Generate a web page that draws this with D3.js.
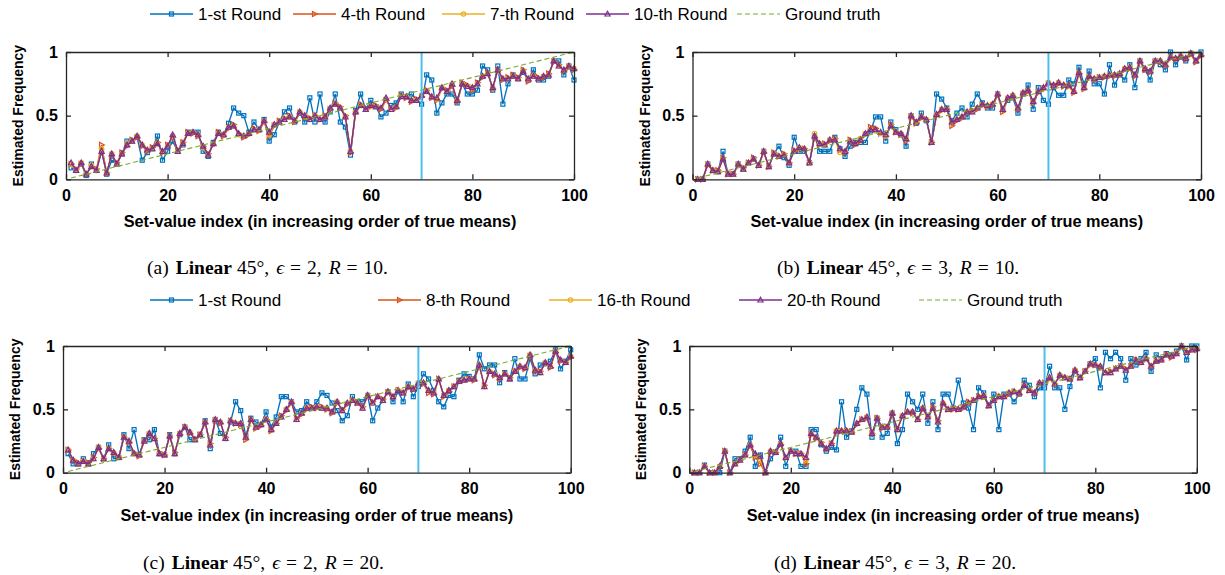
<!DOCTYPE html>
<html>
<head>
<meta charset="utf-8">
<script src="https://cdn.jsdelivr.net/npm/d3@7"></script>
<style>
  body { margin: 0; background: #fff; }
</style>
</head>
<body>
<div id="chart"></div>
<script>
// ---- data ----
const idx = d3.range(1, 101);
const groundTruthIdx = [1, 100];
const groundTruthVal = [0.01, 1.0];
const cutIndex = 70;

const legendTop = ["1-st Round", "4-th Round", "7-th Round", "10-th Round", "Ground truth"];
const legendBottom = ["1-st Round", "8-th Round", "16-th Round", "20-th Round", "Ground truth"];
const xTicks = [0, 20, 40, 60, 80, 100];
const yTicks = [0, 0.5, 1];

// (a) eps=2, R=10
const aRound1 = [0.09,0.07,0.12,0.03,0.12,0.07,0.22,0.04,0.15,0.12,0.2,0.3,0.3,0.33,0.15,0.21,0.24,0.34,0.15,0.22,
  0.3,0.22,0.27,0.37,0.37,0.37,0.22,0.18,0.29,0.37,0.35,0.44,0.56,0.52,0.5,0.37,0.45,0.39,0.47,0.3,
  0.35,0.45,0.53,0.56,0.45,0.52,0.45,0.64,0.45,0.67,0.45,0.53,0.67,0.45,0.41,0.19,0.54,0.67,0.55,0.62,
  0.57,0.49,0.52,0.58,0.6,0.67,0.65,0.67,0.62,0.59,0.82,0.78,0.52,0.6,0.67,0.67,0.6,0.75,0.67,0.67,
  0.7,0.89,0.86,0.7,0.89,0.59,0.75,0.82,0.79,0.84,0.78,0.86,0.78,0.78,0.81,0.93,0.93,0.82,0.89,0.78];
const aRound4 = [0.12,0.08,0.12,0.04,0.1,0.08,0.27,0.05,0.19,0.13,0.21,0.26,0.31,0.33,0.26,0.22,0.25,0.29,0.21,0.27,
  0.33,0.23,0.29,0.37,0.36,0.34,0.26,0.2,0.27,0.37,0.34,0.4,0.43,0.36,0.33,0.35,0.4,0.38,0.45,0.34,
  0.42,0.46,0.48,0.5,0.45,0.52,0.49,0.48,0.5,0.47,0.5,0.55,0.6,0.57,0.5,0.21,0.52,0.59,0.56,0.57,
  0.58,0.55,0.62,0.56,0.56,0.66,0.64,0.61,0.63,0.65,0.7,0.64,0.62,0.71,0.7,0.73,0.61,0.76,0.74,0.7,
  0.76,0.8,0.84,0.71,0.86,0.78,0.8,0.82,0.8,0.86,0.77,0.82,0.8,0.8,0.83,0.92,0.9,0.85,0.88,0.86];
const aRound7 = [0.12,0.07,0.13,0.04,0.11,0.07,0.24,0.05,0.2,0.12,0.2,0.28,0.3,0.34,0.27,0.23,0.24,0.28,0.22,0.26,
  0.34,0.22,0.28,0.36,0.37,0.35,0.25,0.19,0.28,0.36,0.35,0.41,0.42,0.35,0.34,0.36,0.39,0.39,0.46,0.35,
  0.43,0.45,0.47,0.49,0.46,0.53,0.5,0.47,0.5,0.47,0.49,0.56,0.59,0.56,0.49,0.22,0.53,0.58,0.55,0.58,
  0.57,0.56,0.63,0.55,0.57,0.65,0.65,0.62,0.62,0.66,0.69,0.65,0.63,0.72,0.69,0.75,0.62,0.75,0.73,0.72,
  0.75,0.81,0.83,0.72,0.85,0.79,0.79,0.81,0.79,0.85,0.79,0.81,0.79,0.81,0.82,0.93,0.89,0.86,0.89,0.87];
const aRound10 = [0.13,0.07,0.13,0.04,0.1,0.07,0.22,0.05,0.2,0.12,0.2,0.27,0.3,0.34,0.27,0.23,0.24,0.28,0.22,0.26,
  0.35,0.22,0.28,0.36,0.37,0.35,0.26,0.19,0.28,0.36,0.35,0.41,0.42,0.36,0.34,0.36,0.39,0.39,0.46,0.37,
  0.43,0.45,0.47,0.49,0.46,0.53,0.5,0.47,0.5,0.47,0.49,0.56,0.59,0.56,0.49,0.22,0.53,0.58,0.55,0.58,
  0.57,0.56,0.64,0.55,0.57,0.65,0.65,0.62,0.62,0.66,0.69,0.65,0.64,0.72,0.69,0.75,0.62,0.75,0.73,0.72,
  0.75,0.81,0.83,0.72,0.86,0.79,0.79,0.81,0.79,0.85,0.79,0.81,0.79,0.81,0.82,0.93,0.89,0.86,0.89,0.87];

// (b) eps=3, R=10
const bRound1 = [0,0,0.12,0.07,0.06,0.22,0.04,0.04,0.12,0.08,0.13,0.16,0.11,0.22,0.1,0.2,0.26,0.17,0.11,0.33,
  0.22,0.22,0.13,0.34,0.22,0.22,0.22,0.33,0.24,0.18,0.26,0.29,0.29,0.29,0.38,0.49,0.49,0.3,0.45,0.39,
  0.35,0.26,0.5,0.44,0.52,0.46,0.29,0.67,0.63,0.56,0.46,0.52,0.56,0.49,0.59,0.67,0.6,0.56,0.56,0.67,
  0.55,0.62,0.64,0.52,0.67,0.74,0.55,0.72,0.62,0.59,0.72,0.66,0.66,0.78,0.75,0.88,0.75,0.85,0.75,0.75,
  0.67,0.9,0.74,0.82,0.78,0.9,0.72,0.93,0.86,0.78,0.93,0.9,0.86,1.0,0.9,0.96,0.93,0.99,0.93,1.0];
const bRound4 = [0,0,0.11,0.07,0.07,0.17,0.04,0.04,0.11,0.09,0.13,0.17,0.11,0.21,0.1,0.21,0.18,0.2,0.13,0.23,
  0.24,0.24,0.13,0.33,0.27,0.28,0.3,0.32,0.23,0.21,0.31,0.27,0.3,0.35,0.41,0.4,0.36,0.34,0.43,0.37,
  0.35,0.3,0.49,0.44,0.48,0.47,0.29,0.5,0.54,0.55,0.42,0.46,0.48,0.52,0.54,0.55,0.58,0.57,0.58,0.66,
  0.53,0.63,0.65,0.55,0.67,0.69,0.6,0.68,0.71,0.75,0.73,0.75,0.73,0.73,0.68,0.83,0.71,0.8,0.78,0.8,
  0.8,0.81,0.81,0.82,0.86,0.87,0.81,0.92,0.86,0.84,0.92,0.92,0.89,0.95,0.94,0.96,0.94,0.98,0.92,0.97];
const bRound7 = [0,0,0.12,0.07,0.06,0.16,0.04,0.04,0.12,0.08,0.13,0.16,0.11,0.22,0.1,0.2,0.18,0.19,0.13,0.22,
  0.25,0.24,0.13,0.36,0.28,0.27,0.31,0.31,0.21,0.22,0.3,0.28,0.32,0.36,0.39,0.38,0.36,0.34,0.42,0.37,
  0.36,0.32,0.5,0.45,0.49,0.47,0.29,0.51,0.55,0.55,0.45,0.47,0.49,0.53,0.53,0.56,0.59,0.58,0.59,0.67,
  0.55,0.64,0.66,0.56,0.68,0.7,0.61,0.69,0.72,0.76,0.74,0.76,0.74,0.74,0.69,0.84,0.72,0.81,0.79,0.8,
  0.81,0.82,0.82,0.83,0.87,0.88,0.82,0.93,0.87,0.85,0.93,0.93,0.9,0.96,0.95,0.97,0.95,0.99,0.93,0.98];
const bRound10 = [0,0,0.12,0.07,0.06,0.16,0.04,0.04,0.12,0.08,0.13,0.16,0.11,0.22,0.1,0.2,0.18,0.19,0.13,0.22,
  0.25,0.24,0.13,0.34,0.28,0.27,0.31,0.31,0.24,0.22,0.3,0.28,0.31,0.36,0.39,0.39,0.37,0.35,0.42,0.37,
  0.36,0.32,0.5,0.45,0.49,0.47,0.29,0.51,0.55,0.55,0.45,0.47,0.49,0.53,0.53,0.56,0.59,0.58,0.59,0.67,
  0.55,0.64,0.66,0.56,0.68,0.7,0.61,0.69,0.72,0.76,0.74,0.76,0.74,0.74,0.69,0.84,0.72,0.81,0.79,0.8,
  0.81,0.82,0.82,0.83,0.87,0.88,0.82,0.93,0.87,0.85,0.93,0.93,0.9,0.96,0.95,0.97,0.95,0.99,0.93,0.98];

// (c) eps=2, R=20
const cRound1 = [0.15,0.07,0.07,0.11,0.07,0.15,0.2,0.11,0.22,0.11,0.12,0.3,0.19,0.34,0.14,0.26,0.26,0.34,0.15,0.14,
  0.3,0.15,0.3,0.36,0.26,0.26,0.3,0.41,0.19,0.42,0.31,0.27,0.4,0.56,0.49,0.29,0.43,0.4,0.38,0.48,
  0.36,0.44,0.6,0.6,0.56,0.48,0.49,0.56,0.51,0.56,0.63,0.61,0.55,0.49,0.41,0.45,0.6,0.56,0.56,0.61,
  0.41,0.51,0.57,0.64,0.56,0.64,0.56,0.7,0.6,0.68,0.78,0.74,0.65,0.56,0.52,0.61,0.6,0.73,0.78,0.76,
  0.74,0.93,0.82,0.85,0.85,0.71,0.79,0.74,0.9,0.74,0.74,0.9,0.78,0.85,0.86,0.88,0.97,0.82,0.88,0.97];
const cRound8 = [0.18,0.1,0.08,0.09,0.08,0.12,0.19,0.11,0.19,0.15,0.12,0.28,0.24,0.16,0.13,0.25,0.3,0.27,0.16,0.14,
  0.29,0.16,0.3,0.36,0.31,0.27,0.3,0.39,0.23,0.41,0.39,0.28,0.41,0.39,0.38,0.26,0.42,0.35,0.37,0.42,
  0.33,0.39,0.45,0.49,0.55,0.43,0.46,0.5,0.52,0.51,0.52,0.5,0.47,0.55,0.5,0.54,0.57,0.55,0.52,0.6,
  0.56,0.6,0.58,0.63,0.6,0.65,0.63,0.67,0.66,0.7,0.7,0.63,0.62,0.74,0.6,0.64,0.68,0.72,0.73,0.74,
  0.73,0.84,0.69,0.8,0.77,0.74,0.78,0.75,0.8,0.83,0.82,0.92,0.8,0.8,0.86,0.83,0.95,0.88,0.87,0.91];
const cRound16 = [0.18,0.1,0.07,0.09,0.07,0.11,0.2,0.11,0.19,0.16,0.12,0.28,0.25,0.15,0.14,0.25,0.31,0.27,0.15,0.14,
  0.29,0.15,0.31,0.36,0.32,0.26,0.3,0.4,0.22,0.42,0.4,0.27,0.41,0.39,0.39,0.28,0.42,0.36,0.38,0.42,
  0.34,0.39,0.44,0.5,0.56,0.42,0.47,0.51,0.51,0.52,0.51,0.51,0.48,0.56,0.49,0.55,0.57,0.55,0.51,0.61,
  0.55,0.6,0.57,0.64,0.6,0.65,0.63,0.68,0.66,0.71,0.71,0.65,0.63,0.74,0.61,0.65,0.68,0.72,0.73,0.74,
  0.74,0.85,0.68,0.8,0.78,0.75,0.78,0.74,0.8,0.84,0.83,0.93,0.81,0.79,0.87,0.84,0.96,0.89,0.87,0.92];
const cRound20 = [0.18,0.1,0.07,0.09,0.07,0.11,0.2,0.11,0.19,0.16,0.12,0.28,0.25,0.15,0.14,0.25,0.31,0.27,0.15,0.14,
  0.29,0.15,0.31,0.36,0.32,0.26,0.3,0.4,0.22,0.42,0.4,0.27,0.41,0.39,0.39,0.28,0.42,0.36,0.38,0.42,
  0.34,0.39,0.44,0.5,0.56,0.42,0.47,0.51,0.51,0.52,0.51,0.51,0.48,0.56,0.49,0.55,0.57,0.55,0.51,0.61,
  0.55,0.6,0.57,0.64,0.6,0.65,0.63,0.68,0.66,0.71,0.71,0.65,0.63,0.74,0.61,0.65,0.68,0.72,0.73,0.74,
  0.74,0.85,0.68,0.8,0.78,0.75,0.78,0.74,0.8,0.84,0.83,0.93,0.81,0.79,0.87,0.84,0.96,0.89,0.87,0.92];

// (d) eps=3, R=20
const dRound1 = [0,0,0.06,0,0,0,0.17,0,0.11,0.11,0.17,0.28,0.05,0.14,0,0.11,0.16,0.28,0.05,0.17,
  0.17,0.05,0.05,0.34,0.34,0.22,0.17,0.2,0.18,0.56,0.28,0.33,0.5,0.67,0.62,0.28,0.43,0.28,0.31,0.47,
  0.23,0.34,0.62,0.56,0.5,0.62,0.39,0.56,0.34,0.62,0.62,0.51,0.73,0.55,0.51,0.34,0.67,0.63,0.53,0.62,
  0.34,0.62,0.62,0.56,0.62,0.73,0.69,0.6,0.67,0.67,0.84,0.67,0.67,0.5,0.68,0.8,0.75,0.8,0.86,0.9,
  0.67,0.95,0.9,0.95,0.9,0.73,0.9,0.85,0.9,0.95,0.8,0.93,0.9,0.94,0.93,0.96,1.0,0.89,1.0,1.0];
const dRound8 = [0,0,0.05,0,0,0.04,0.17,0,0.07,0.1,0.14,0.21,0.12,0.07,0,0.16,0.16,0.22,0.12,0.17,
  0.15,0.15,0.07,0.3,0.27,0.24,0.19,0.23,0.32,0.33,0.33,0.32,0.38,0.42,0.43,0.31,0.43,0.35,0.36,0.46,
  0.35,0.44,0.48,0.47,0.42,0.5,0.44,0.52,0.41,0.54,0.5,0.5,0.5,0.51,0.56,0.57,0.6,0.6,0.53,0.57,
  0.6,0.6,0.62,0.64,0.62,0.69,0.65,0.63,0.7,0.71,0.74,0.7,0.76,0.75,0.74,0.8,0.75,0.8,0.85,0.85,
  0.83,0.79,0.8,0.82,0.84,0.82,0.84,0.89,0.87,0.9,0.84,0.88,0.89,0.93,0.91,0.94,0.99,0.95,0.97,0.97];
const dRound16 = [0,0,0.05,0,0,0.05,0.17,0,0.07,0.1,0.14,0.22,0.14,0.1,0,0.17,0.16,0.23,0.12,0.17,
  0.15,0.15,0.1,0.31,0.28,0.23,0.19,0.23,0.33,0.33,0.33,0.32,0.39,0.42,0.44,0.31,0.43,0.36,0.36,0.47,
  0.34,0.45,0.48,0.48,0.42,0.51,0.44,0.51,0.4,0.55,0.5,0.51,0.5,0.52,0.55,0.57,0.6,0.61,0.53,0.57,
  0.6,0.6,0.63,0.64,0.63,0.69,0.65,0.63,0.71,0.71,0.75,0.7,0.77,0.75,0.74,0.81,0.75,0.8,0.86,0.85,
  0.84,0.79,0.79,0.82,0.84,0.81,0.84,0.89,0.87,0.9,0.84,0.88,0.89,0.93,0.92,0.94,1.0,0.95,0.97,0.98];
const dRound20 = [0,0,0.05,0,0,0.05,0.17,0,0.07,0.1,0.14,0.22,0.15,0.13,0,0.17,0.16,0.23,0.12,0.17,
  0.15,0.15,0.12,0.31,0.28,0.23,0.19,0.23,0.33,0.33,0.33,0.32,0.39,0.42,0.44,0.31,0.43,0.36,0.36,0.47,
  0.34,0.45,0.48,0.48,0.42,0.51,0.44,0.51,0.4,0.55,0.5,0.51,0.5,0.52,0.55,0.57,0.6,0.61,0.53,0.57,
  0.6,0.6,0.63,0.64,0.63,0.69,0.65,0.63,0.71,0.71,0.75,0.7,0.77,0.75,0.74,0.81,0.75,0.8,0.86,0.85,
  0.84,0.79,0.79,0.82,0.84,0.81,0.84,0.89,0.87,0.9,0.84,0.88,0.89,0.93,0.92,0.94,1.0,0.95,0.97,0.98];

// ---- styles ----
const seriesStyle = [
  { color: "#0072BD", marker: "square" },
  { color: "#D95319", marker: "right" },
  { color: "#EDB120", marker: "circle" },
  { color: "#7E2F8E", marker: "up" }
];
const gtColor = "#77AC30";
const cutColor = "#4DBEEE";
const sans = "Liberation Sans, Arial, sans-serif";
const serif = "Liberation Serif, Times New Roman, serif";

const panels = [
  { series: [aRound1, aRound4, aRound7, aRound10], x0: 66, x1: 574, yTop: 52, yBot: 179.3, axis: "#262626",
    cap: { x: 147, y: 274, letter: "(a)", eps: "2", R: "10" } },
  { series: [bRound1, bRound4, bRound7, bRound10], x0: 692.5, x1: 1201, yTop: 52, yBot: 179.3, axis: "#262626",
    cap: { x: 777, y: 274, letter: "(b)", eps: "3", R: "10" } },
  { series: [cRound1, cRound8, cRound16, cRound20], x0: 63, x1: 570.7, yTop: 346, yBot: 472.7, axis: "#262626",
    cap: { x: 143, y: 569, letter: "(c)", eps: "2", R: "20" } },
  { series: [dRound1, dRound8, dRound16, dRound20], x0: 689.3, x1: 1196.8, yTop: 346, yBot: 472.7, axis: "#262626",
    cap: { x: 774, y: 569, letter: "(d)", eps: "3", R: "20" } }
];

const svg = d3.select("#chart").append("svg")
  .attr("width", 1225).attr("height", 575)
  .attr("font-family", sans);

function drawMarker(g, type, color, x, y) {
  if (type === "square") {
    g.append("rect").attr("x", x - 2).attr("y", y - 2).attr("width", 4).attr("height", 4)
      .attr("fill", "none").attr("stroke", color).attr("stroke-width", 1.2);
  } else if (type === "circle") {
    g.append("circle").attr("cx", x).attr("cy", y).attr("r", 2.2)
      .attr("fill", "none").attr("stroke", color).attr("stroke-width", 1.2);
  } else if (type === "up") {
    g.append("path").attr("d", `M${x},${y - 2.8}L${x + 2.6},${y + 2}L${x - 2.6},${y + 2}Z`)
      .attr("fill", "none").attr("stroke", color).attr("stroke-width", 1.2);
  } else {
    g.append("path").attr("d", `M${x + 2.8},${y}L${x - 2},${y - 2.6}L${x - 2},${y + 2.6}Z`)
      .attr("fill", "none").attr("stroke", color).attr("stroke-width", 1.2);
  }
}

panels.forEach((p) => {
  const x = d3.scaleLinear().domain([0, 100]).range([p.x0, p.x1]);
  const y = d3.scaleLinear().domain([0, 1]).range([p.yBot, p.yTop]);
  const g = svg.append("g");

  const line = d3.line().x((d, i) => x(idx[i])).y((d) => y(d));

  p.series.forEach((vals, k) => {
    const st = seriesStyle[k];
    g.append("path").datum(vals).attr("d", line)
      .attr("fill", "none").attr("stroke", st.color).attr("stroke-width", 1.35);
    const mg = g.append("g");
    vals.forEach((v, i) => drawMarker(mg, st.marker, st.color, x(idx[i]), y(v)));
  });

  // ground truth
  g.append("path").datum(groundTruthVal)
    .attr("d", d3.line().x((d, i) => x(groundTruthIdx[i])).y((d) => y(d)))
    .attr("fill", "none").attr("stroke", gtColor).attr("stroke-width", 1.1)
    .attr("stroke-dasharray", "5,3");

  // cut line
  g.append("line").attr("x1", x(cutIndex)).attr("x2", x(cutIndex))
    .attr("y1", p.yTop).attr("y2", p.yBot)
    .attr("stroke", cutColor).attr("stroke-width", 2);

  // axes
  const axB = g.append("g").attr("transform", `translate(0,${p.yBot})`)
    .call(d3.axisBottom(x).tickValues(xTicks).tickSizeInner(-5).tickSizeOuter(0).tickPadding(10));
  const axL = g.append("g").attr("transform", `translate(${p.x0},0)`)
    .call(d3.axisLeft(y).tickValues(yTicks).tickFormat(d3.format("~g")).tickSizeInner(-5).tickSizeOuter(0).tickPadding(8));
  const axT = g.append("g").attr("transform", `translate(0,${p.yTop})`)
    .call(d3.axisTop(x).tickValues(xTicks).tickSizeInner(-5).tickSizeOuter(0).tickFormat(""));
  const axR = g.append("g").attr("transform", `translate(${p.x1},0)`)
    .call(d3.axisRight(y).tickValues(yTicks).tickSizeInner(-5).tickSizeOuter(0).tickFormat(""));
  [axB, axL, axT, axR].forEach((a) => {
    a.select(".domain").attr("stroke", p.axis).attr("stroke-width", 1.3);
    a.selectAll(".tick line").attr("stroke", p.axis).attr("stroke-width", 1.3);
    a.selectAll(".tick text").attr("fill", "#000").attr("font-size", 16).attr("font-weight", "bold")
      .attr("font-family", sans);
  });

  // axis labels
  g.append("text").attr("x", (p.x0 + p.x1) / 2).attr("y", p.yBot + 48)
    .attr("text-anchor", "middle").attr("font-size", 16.3).attr("font-weight", "bold")
    .text("Set-value index (in increasing order of true means)");
  g.append("text")
    .attr("transform", `translate(${p.x0 - 43},${(p.yTop + p.yBot) / 2}) rotate(-90)`)
    .attr("text-anchor", "middle").attr("font-size", 14).attr("font-weight", "bold")
    .text("Estimated Frequency");

  // caption (math-style spacing via dx)
  const c = g.append("text").attr("x", p.cap.x).attr("y", p.cap.y)
    .attr("font-family", serif).attr("font-size", 19.5);
  c.append("tspan").text(p.cap.letter);
  c.append("tspan").attr("dx", 7).attr("font-weight", "bold").text("Linear");
  c.append("tspan").attr("dx", 5).text("45°,");
  c.append("tspan").attr("dx", 7).attr("font-style", "italic").text("ϵ");
  c.append("tspan").attr("dx", 6).text("=");
  c.append("tspan").attr("dx", 6).text("2".replace("2", p.cap.eps) + ",");
  c.append("tspan").attr("dx", 7).attr("font-style", "italic").text("R");
  c.append("tspan").attr("dx", 6).text("=");
  c.append("tspan").attr("dx", 6).text(p.cap.R + ".");
});

// legends
function drawLegend(labels, textX, yPos) {
  const lg = svg.append("g");
  labels.forEach((lab, k) => {
    const tx = textX[k];
    const lx0 = tx - 48, lx1 = tx - 5, mid = (lx0 + lx1) / 2;
    if (k < 4) {
      const st = seriesStyle[k];
      lg.append("line").attr("x1", lx0).attr("x2", lx1).attr("y1", yPos).attr("y2", yPos)
        .attr("stroke", st.color).attr("stroke-width", 1.3);
      drawMarker(lg, st.marker, st.color, mid, yPos);
    } else {
      lg.append("line").attr("x1", lx0).attr("x2", lx1).attr("y1", yPos).attr("y2", yPos)
        .attr("stroke", gtColor).attr("stroke-width", 1.1).attr("stroke-dasharray", "5,3");
    }
    lg.append("text").attr("x", tx).attr("y", yPos).attr("dy", "0.35em")
      .attr("font-size", 17).text(lab);
  });
}
drawLegend(legendTop, [198, 341, 490, 634, 785], 14);
drawLegend(legendBottom, [198, 426, 597, 787, 967], 300);
</script>
</body>
</html>
